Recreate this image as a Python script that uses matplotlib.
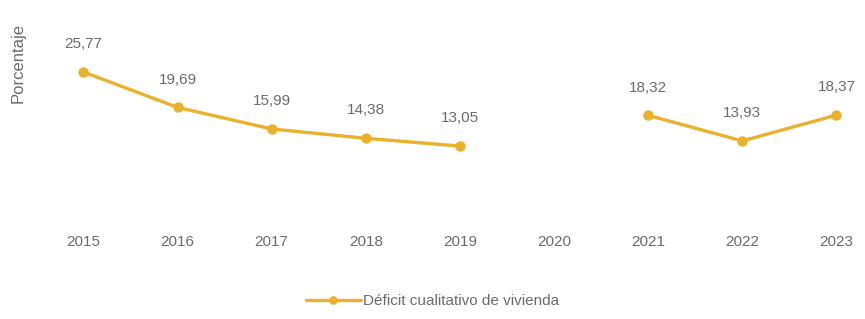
import matplotlib
matplotlib.use("Agg")
import matplotlib.pyplot as plt
import numpy as np

years = [2015, 2016, 2017, 2018, 2019, 2020, 2021, 2022, 2023]
deficit = [25.77, 19.69, 15.99, 14.38, 13.05, np.nan, 18.32, 13.93, 18.37]
series_name = "Déficit cualitativo de vivienda"
y_label = "Porcentaje"

plt.rcParams['font.family'] = ['Liberation Sans Narrow', 'Liberation Sans', 'DejaVu Sans']

color = "#E9B12C"
text_color = "#6b6b6b"

fig = plt.figure(figsize=(8.65, 3.19), dpi=100)
ax = fig.add_axes([0.042, 0.304, 0.95, 0.657])

ax.plot(years, deficit, color=color, lw=2.4, marker="o", ms=6.5,
        label=series_name, solid_capstyle="round")

for x, v in zip(years, deficit):
    if np.isnan(v):
        continue
    ax.annotate(f"{v:.2f}".replace(".", ","), (x, v), xytext=(0, 15),
                textcoords="offset points", ha="center", va="bottom",
                fontsize=11, color=text_color)

ax.set_xlim(2014.5, 2023.23)
ax.set_ylim(0, 36)
ax.set_xticks(years)
ax.set_xticklabels([str(y) for y in years], fontsize=11, color=text_color)
ax.tick_params(axis="x", length=0, pad=9)
ax.set_yticks([])
ax.set_ylabel(y_label, fontsize=12, color=text_color)
ax.yaxis.set_label_coords(-0.013, 0.76)
for s in ax.spines.values():
    s.set_visible(False)

fig.legend(loc="lower center", bbox_to_anchor=(0.5, -0.01), frameon=False,
           fontsize=11, labelcolor=text_color, handlelength=3.6,
           handletextpad=0.15, markerscale=0.8)

fig.savefig("out.png", dpi=100, facecolor="white")
